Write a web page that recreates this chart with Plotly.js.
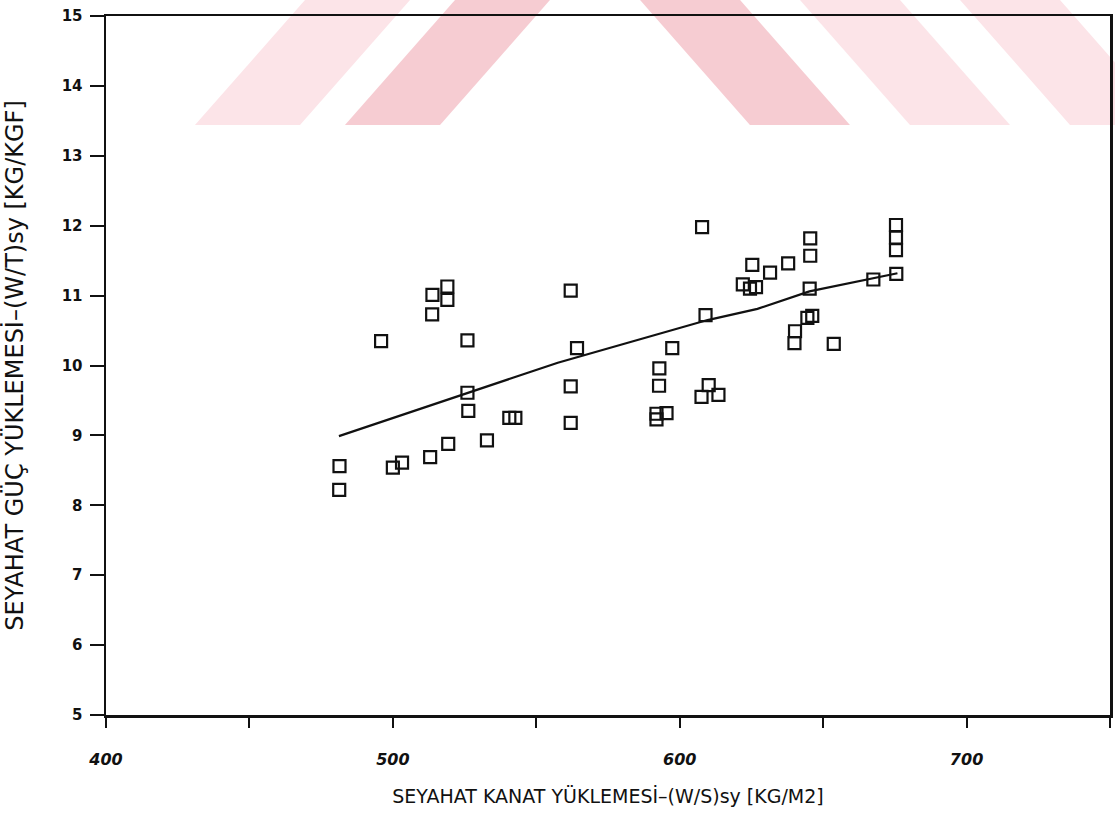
<!DOCTYPE html>
<html>
<head>
<meta charset="utf-8">
<script src="https://cdn.plot.ly/plotly-3.0.1.min.js"></script>
<style>
  html, body { margin: 0; padding: 0; background: #ffffff; }
  #chart { width: 1115px; height: 814px; }
</style>
</head>
<body>
<div id="chart"></div>
<script>
// Cruise wing loading (W/S)sy [kg/m2]
const wingLoading = [
  481.4, 481.3, 495.9, 513.8, 519.0, 519.0, 513.7, 526.0, 526.0, 526.3,
  532.8, 519.3, 513.0, 503.2, 500.0, 540.6, 542.7, 562.0, 564.2, 562.0,
  562.0, 607.8, 645.5, 645.5, 675.4, 675.4, 675.4, 675.5, 667.5, 625.3,
  637.8, 631.5, 622.0, 624.5, 626.6, 645.3, 609.0, 646.2, 644.5, 640.2,
  640.0, 653.7, 597.4, 592.9, 592.8, 610.1, 607.6, 613.5, 591.9, 595.4,
  591.9
];
// Cruise power loading (W/T)sy [kg/kgf]
const powerLoading = [
  8.56, 8.22, 10.35, 11.01, 11.13, 10.94, 10.73, 10.36, 9.61, 9.35,
  8.93, 8.88, 8.69, 8.61, 8.54, 9.25, 9.25, 11.07, 10.25, 9.70,
  9.18, 11.98, 11.82, 11.57, 12.01, 11.83, 11.65, 11.31, 11.23, 11.44,
  11.46, 11.33, 11.16, 11.10, 11.12, 11.10, 10.72, 10.71, 10.68, 10.49,
  10.32, 10.31, 10.25, 9.96, 9.71, 9.72, 9.55, 9.58, 9.31, 9.32,
  9.23
];
// Fitted trend curve
const trendX = [481.2, 526.0, 557.5, 609.7, 627.1, 645.2, 675.9];
const trendY = [8.99, 9.61, 10.04, 10.65, 10.81, 11.06, 11.32];

// Axis ticks
const xTickVals = [400, 450, 500, 550, 600, 650, 700, 750];
const xTickText = ['400', '', '500', '', '600', '', '700', ''];
const yTickVals = [5, 6, 7, 8, 9, 10, 11, 12, 13, 14, 15];
const yTickText = ['5', '6', '7', '8', '9', '10', '11', '12', '13', '14', '15'];

const xTitle = 'SEYAHAT KANAT YÜKLEMESİ–(W/S)sy [KG/M2]';
const yTitle = 'SEYAHAT GÜÇ YÜKLEMESİ–(W/T)sy [KG/KGF]';

const ink = '#111111';
const plotFont = 'DejaVu Sans, Liberation Sans, sans-serif';

// faint watermark bands (paper coordinates derived from pixel geometry)
function px2paperX(px) { return (px - 106) / 1004; }
function px2paperY(py) { return (715 - py) / 699; }
function band(pts, color) {
  let d = '';
  pts.forEach((p, i) => {
    d += (i === 0 ? 'M' : 'L') + px2paperX(p[0]).toFixed(4) + ',' + px2paperY(p[1]).toFixed(4) + ' ';
  });
  d += 'Z';
  return { type: 'path', xref: 'paper', yref: 'paper', path: d,
           fillcolor: color, line: { width: 0 }, layer: 'below' };
}
const wmLight = 'rgb(252,228,232)';
const wmMid = 'rgb(246,204,210)';
const shapes = [
  band([[195,125],[300,125],[410,0],[305,0]], wmLight),
  band([[345,125],[440,125],[550,0],[455,0]], wmMid),
  band([[640,0],[740,0],[850,125],[750,125]], wmMid),
  band([[800,0],[900,0],[1010,125],[910,125]], wmLight),
  band([[960,0],[1060,0],[1170,125],[1070,125]], wmLight)
];

const traces = [
  {
    type: 'scatter', mode: 'lines',
    x: trendX, y: trendY,
    line: { color: ink, width: 2.2 },
    hoverinfo: 'skip', showlegend: false
  },
  {
    type: 'scatter', mode: 'markers',
    x: wingLoading, y: powerLoading,
    marker: { symbol: 'square-open', size: 12, color: ink, line: { color: ink, width: 2.2 } },
    showlegend: false
  }
];

const layout = {
  width: 1115, height: 814,
  margin: { l: 106, r: 5, t: 16, b: 99 },
  paper_bgcolor: '#ffffff', plot_bgcolor: 'rgba(0,0,0,0)',
  showlegend: false,
  shapes: shapes,
  xaxis: {
    range: [400, 750], tickmode: 'array', tickvals: xTickVals, ticktext: xTickText,
    ticks: 'outside', ticklen: 10, tickwidth: 2, tickcolor: ink,
    showline: true, linewidth: 2.5, linecolor: ink, mirror: true,
    showgrid: false, zeroline: false,
    tickfont: { family: plotFont, size: 16, color: ink, weight: 'bold', style: 'italic' },
    ticklabelstandoff: 18,
    automargin: false,
    title: { text: xTitle, font: { family: plotFont, size: 19, color: ink }, standoff: 22 }
  },
  yaxis: {
    range: [5, 15], tickmode: 'array', tickvals: yTickVals, ticktext: yTickText,
    ticks: 'outside', ticklen: 14, tickwidth: 2, tickcolor: ink,
    showline: true, linewidth: 2.5, linecolor: ink, mirror: true,
    showgrid: false, zeroline: false,
    tickfont: { family: plotFont, size: 15, color: ink, weight: 'bold' },
    ticklabelstandoff: 4,
    automargin: false,
    title: { text: yTitle, font: { family: plotFont, size: 24, color: ink }, standoff: 34 }
  }
};

Plotly.newPlot('chart', traces, layout, { displayModeBar: false, staticPlot: true });
</script>
</body>
</html>
